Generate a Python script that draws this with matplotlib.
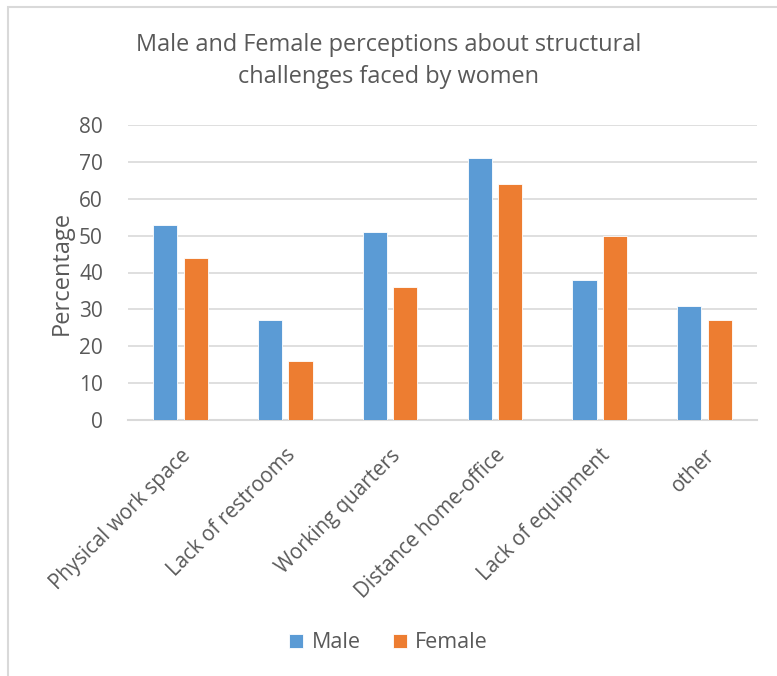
import matplotlib.pyplot as plt
from matplotlib.patches import Rectangle
import numpy as np

plt.rcParams['font.family'] = ['Open Sans', 'DejaVu Sans']

# data
categories = ['Physical work space', 'Lack of restrooms', 'Working quarters',
              'Distance home-office', 'Lack of equipment', 'other']
male = [53, 27, 51, 71, 38, 31]
female = [44, 16, 36, 64, 50, 27]

text_color = '#595959'
grid_color = '#d9d9d9'
blue = '#5B9BD5'
orange = '#ED7D31'

fig = plt.figure(figsize=(7.77, 6.76), dpi=100)

# light chart-area border (only top and left visible in the crop)
fig.patches.append(Rectangle((8 / 777, -0.05), 1.2, 1.05 - 7 / 676,
                             transform=fig.transFigure, fill=False,
                             edgecolor=grid_color, linewidth=1.5))

ax = fig.add_axes([128 / 777, (676 - 420) / 676, (757 - 128) / 777, (420 - 125) / 676])

x = np.arange(len(categories))
w = 0.23
off = 0.145
ax.bar(x - off, male, w, color=blue, edgecolor='white', linewidth=0.6, label='Male', zorder=3)
ax.bar(x + off, female, w, color=orange, edgecolor='white', linewidth=0.6, label='Female', zorder=3)

ax.set_xlim(-0.5, len(categories) - 0.5)
ax.set_ylim(0, 80)
ax.set_yticks(range(0, 81, 10))
ax.yaxis.grid(True, color=grid_color, linewidth=1.2, zorder=0)
ax.set_axisbelow(True)

for s in ['top', 'right', 'left']:
    ax.spines[s].set_visible(False)
ax.spines['bottom'].set_color(grid_color)
ax.spines['bottom'].set_linewidth(1.5)

ax.tick_params(axis='both', length=0, labelcolor=text_color)
ax.tick_params(axis='y', labelsize=15, pad=18)
ax.tick_params(axis='x', labelsize=14.8, pad=18)
ax.set_xticks(x)
ax.set_xticklabels(categories, rotation=45, ha='right', rotation_mode='anchor')

ax.set_ylabel('Percentage', fontsize=17, color=text_color, labelpad=4)

fig.text(0.5, 1 - 61 / 676, 'Male and Female perceptions about structural\nchallenges faced by women',
         ha='center', va='center', fontsize=16.9, color=text_color, linespacing=1.45)

fig.legend(loc='center', bbox_to_anchor=(0.5, (676 - 643) / 676), ncol=2, frameon=False,
           fontsize=15.5, labelcolor=text_color, handlelength=0.65, handleheight=0.65,
           handletextpad=0.4, columnspacing=1.5)

fig.savefig('out.png', dpi=100)
